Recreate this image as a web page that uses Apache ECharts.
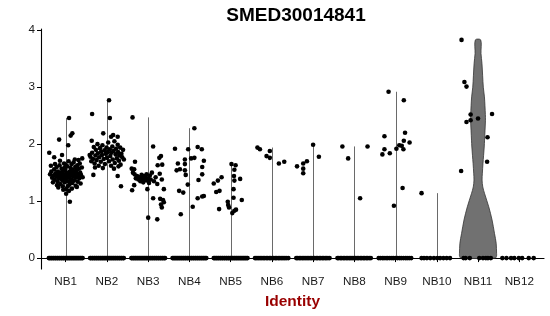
<!DOCTYPE html>
<html>
<head>
<meta charset="utf-8">
<script src="https://cdn.jsdelivr.net/npm/echarts@6/dist/echarts.min.js"></script>
<style>html,body{margin:0;padding:0;background:#fff}#c{width:550px;height:316px}</style>
</head>
<body>
<div id="c"></div>
<script>
// ---- data ----
const title = 'SMED30014841';
const categories = ['NB1','NB2','NB3','NB4','NB5','NB6','NB7','NB8','NB9','NB10','NB11','NB12'];
const yTicks = [0, 1, 2, 3, 4];

// non-zero cells: [jitter offset, expression]
const ptsNB1 = [[0.08,2.46],[0.16,2.19],[0.12,2.15],[-0.16,2.08],[0.06,1.98],[-0.40,1.85],[-0.28,1.77],[-0.09,1.81],[0.40,1.75],[0.10,0.99],[0.01,1.13],
 [-0.38,1.47],[-0.35,1.52],[-0.33,1.41],[-0.30,1.45],[-0.28,1.56],[-0.27,1.38],[-0.25,1.49],[-0.23,1.43],[-0.22,1.60],[-0.20,1.35],[-0.19,1.52],[-0.17,1.46],[-0.16,1.40],[-0.15,1.63],[-0.13,1.30],[-0.12,1.50],[-0.11,1.44],[-0.10,1.57],[-0.09,1.37],[-0.08,1.48],[-0.07,1.26],[-0.06,1.53],[-0.05,1.42],[-0.04,1.66],[-0.03,1.33],[-0.02,1.46],[-0.01,1.55],[0.00,1.39],[0.01,1.21],[0.02,1.50],[0.03,1.44],[0.04,1.61],[0.05,1.35],[0.06,1.47],[0.07,1.70],[0.08,1.41],[0.09,1.29],[0.10,1.52],[0.11,1.45],[0.12,1.58],[0.13,1.38],[0.14,1.65],[0.15,1.49],[0.16,1.32],[0.17,1.55],[0.18,1.43],[0.19,1.68],[0.20,1.36],[0.21,1.51],[0.22,1.46],[0.23,1.60],[0.24,1.27],[0.25,1.41],[0.26,1.54],[0.27,1.48],[0.28,1.63],[0.29,1.34],[0.30,1.44],[0.31,1.72],[0.32,1.57],[0.33,1.40],[0.35,1.50],[0.36,1.31],[0.37,1.46],[0.39,1.59],[0.41,1.42],[-0.36,1.62],[-0.31,1.33],[-0.26,1.65],[-0.18,1.24],[-0.14,1.71],[-0.06,1.20],[0.00,1.64],[0.08,1.18],[0.15,1.22],[0.22,1.73],[0.27,1.25],[0.34,1.66],[-0.21,1.28],[-0.02,1.59],[0.12,1.34],[0.05,1.26]];
const ptsNB2 = [[0.05,2.77],[-0.36,2.53],[0.07,2.46],[-0.09,2.19],[0.10,2.13],[0.15,2.16],[0.26,2.13],[-0.37,2.06],[-0.42,1.81],[-0.33,1.46],[0.26,1.44],[0.34,1.26],[-0.10,1.58],
 [-0.40,1.78],[-0.38,1.70],[-0.36,1.85],[-0.34,1.74],[-0.32,1.95],[-0.30,1.66],[-0.28,1.80],[-0.27,1.90],[-0.25,1.72],[-0.23,2.00],[-0.22,1.84],[-0.20,1.62],[-0.19,1.77],[-0.17,1.93],[-0.15,1.69],[-0.14,1.87],[-0.12,1.81],[-0.11,1.98],[-0.08,1.74],[-0.06,1.89],[-0.05,1.65],[-0.03,1.83],[-0.01,1.94],[0.00,1.76],[0.02,1.86],[0.03,2.03],[0.05,1.70],[0.07,1.91],[0.08,1.79],[0.10,1.62],[0.11,1.85],[0.13,1.96],[0.14,1.73],[0.16,1.88],[0.18,2.05],[0.19,1.67],[0.21,1.82],[0.22,1.92],[0.24,1.75],[0.26,1.99],[0.27,1.86],[0.29,1.71],[0.30,1.80],[0.32,1.94],[0.33,1.64],[0.35,1.83],[0.37,1.77],[0.39,1.90],[0.41,1.73],[-0.29,1.59],[0.17,1.57],[0.28,1.61]];
const ptsNB3 = [[-0.38,2.47],[0.12,1.96],[0.31,1.79],[0.27,1.76],[-0.32,1.69],[0.23,1.63],[0.34,1.64],[-0.40,1.57],[-0.34,1.56],
 [-0.37,1.50],[-0.33,1.47],[-0.30,1.40],[-0.27,1.44],[-0.24,1.38],[-0.21,1.42],[-0.19,1.35],[-0.16,1.46],[-0.14,1.39],[-0.12,1.33],[-0.10,1.44],[-0.08,1.37],[-0.06,1.41],[-0.04,1.47],[-0.02,1.36],[0.00,1.40],[0.02,1.32],[0.04,1.45],[0.06,1.38],[0.09,1.50],[0.14,1.35],[0.18,1.42],[0.22,1.30],[0.28,1.48],[0.33,1.38],
 [-0.34,1.28],[-0.39,1.19],[-0.02,1.21],[0.38,1.21],[0.12,1.05],[0.29,1.04],[0.38,0.98],[0.33,0.89],[0.00,0.71],[0.22,0.68],[0.36,1.02],[0.31,0.94]];
const ptsNB4 = [[0.12,2.28],[-0.35,1.92],[-0.03,1.91],[0.20,1.95],[0.30,1.91],[0.12,1.76],[0.04,1.75],[-0.11,1.73],[0.35,1.71],[-0.28,1.66],[-0.23,1.56],[-0.31,1.54],[-0.11,1.65],[-0.11,1.54],[-0.09,1.46],[0.31,1.60],[0.31,1.47],[0.22,1.37],[-0.04,1.29],[-0.25,1.18],[-0.15,1.15],[0.35,1.09],[0.31,1.08],[0.20,1.05],[0.08,0.90],[-0.21,0.77]];
const ptsNB5 = [[0.02,1.65],[0.12,1.63],[0.09,1.55],[-0.22,1.42],[-0.31,1.36],[-0.41,1.31],[0.08,1.44],[0.09,1.36],[0.23,1.39],[-0.27,1.18],[-0.35,1.16],[0.07,1.21],[0.07,1.06],[0.27,1.02],[-0.07,0.99],[-0.06,0.93],[-0.04,0.89],[0.13,0.85],[0.09,0.83],[0.04,0.79],[-0.28,0.86]];
const ptsNB6 = [[-0.35,1.94],[-0.29,1.91],[-0.05,1.88],[-0.13,1.79],[-0.05,1.76],[0.17,1.66],[0.30,1.69]];
const ptsNB7 = [[-0.39,1.61],[-0.24,1.66],[-0.15,1.70],[-0.24,1.57],[-0.24,1.49],[0.00,1.99],[0.14,1.78]];
const ptsNB8 = [[-0.29,1.96],[-0.15,1.75],[0.14,1.05],[0.32,1.96]];
const ptsNB9 = [[-0.17,2.92],[0.20,2.77],[-0.27,2.14],[0.23,2.20],[0.20,2.06],[0.34,2.03],[-0.27,1.91],[-0.32,1.82],[-0.14,1.84],[0.02,1.92],[0.09,1.98],[0.15,1.97],[0.19,1.91],[0.17,1.23],[-0.04,0.92]];
const ptsNB10 = [[-0.37,1.14]];
const ptsNB11 = [[-0.40,3.83],[-0.33,3.09],[-0.28,3.01],[-0.18,2.52],[-0.28,2.39],[-0.18,2.42],[0.00,2.45],[0.34,2.53],[0.23,2.12],[0.22,1.69],[-0.41,1.53]];
const ptsNB12 = [];

// cells at zero: jitter offsets only
const zeroDense = [-0.41,-0.39,-0.36,-0.34,-0.31,-0.29,-0.26,-0.24,-0.21,-0.19,-0.16,-0.14,-0.11,-0.09,-0.06,-0.04,-0.01,0.01,0.04,0.06,0.09,0.11,0.14,0.16,0.19,0.21,0.24,0.26,0.29,0.31,0.34,0.36,0.39,0.41];
const zeroMedium = [-0.41,-0.38,-0.34,-0.31,-0.27,-0.24,-0.20,-0.17,-0.13,-0.10,-0.06,-0.03,0.01,0.04,0.08,0.11,0.15,0.18,0.22,0.25,0.29,0.32,0.36,0.40];
const zeroNB9 = [-0.41,-0.37,-0.32,-0.28,-0.23,-0.19,-0.14,-0.09,-0.05,0.00,0.05,0.10,0.14,0.19,0.24,0.28,0.33,0.38];
const zeroNB10 = [-0.37,-0.31,-0.24,-0.16,-0.07,0.01,0.08,0.16,0.24,0.32];
const zeroNB11 = [-0.35,-0.30,-0.20,0.03,0.12,0.19,0.24,0.31];
const zeroNB12 = [-0.41,-0.31,-0.20,-0.12,-0.01,0.07,0.23,0.35];

// NB11 violin outline: [expression, half width]
const violinNB11 = [[0,0.42],[0.04,0.45],[0.08,0.45],[0.26,0.44],[0.43,0.40],[0.67,0.34],[0.90,0.26],[1.13,0.16],[1.25,0.115],[1.37,0.098],[1.49,0.105],[1.66,0.12],[1.95,0.15],[2.07,0.158],[2.42,0.18],[2.52,0.178],[2.83,0.155],[3.00,0.128],[3.42,0.095],[3.59,0.072],[3.83,0.065]];

const points = [ptsNB1,ptsNB2,ptsNB3,ptsNB4,ptsNB5,ptsNB6,ptsNB7,ptsNB8,ptsNB9,ptsNB10,ptsNB11,ptsNB12];
const zeros = [zeroDense,zeroDense,zeroDense,zeroDense,zeroDense,zeroMedium,zeroMedium,zeroMedium,zeroNB9,zeroNB10,zeroNB11,zeroNB12];

// ---- build ----
const scatterData = [];
points.forEach((arr, i) => {
  zeros[i].forEach(dx => scatterData.push([i + 1 + dx, 0]));
  arr.forEach(p => scatterData.push([i + 1 + p[0], p[1]]));
});
const violinData = categories.map((c, i) => {
  const mx = points[i].reduce((m, p) => Math.max(m, p[1]), 0);
  return [i + 1, mx];
});
const ymaxData = Math.max(...violinData.map(d => d[1]));
const yMin = -0.05 * ymaxData, yMax = 1.05 * ymaxData;
const tickVals = categories.map((c, i) => i + 1);
const FONT = 'Liberation Sans, Arial, Helvetica, sans-serif';

const chart = echarts.init(document.getElementById('c'), null, {renderer: 'canvas'});
chart.setOption({
  animation: false,
  backgroundColor: '#ffffff',
  title: {
    text: title, left: 291, top: 1, textAlign: 'center',
    textStyle: {fontFamily: FONT, fontSize: 19, fontWeight: 'bold', color: '#000'}
  },
  grid: {left: 41, right: 6, top: 29, bottom: 47, containLabel: false},
  xAxis: {
    type: 'value', min: 0.4, max: 12.6,
    axisLine: {show: true, lineStyle: {color: '#000', width: 1.1}},
    axisTick: {show: true, length: 4, lineStyle: {color: '#000', width: 1}, customValues: tickVals},
    axisLabel: {customValues: tickVals, formatter: v => categories[Math.round(v) - 1] || '', margin: 7,
      fontFamily: FONT, fontSize: 11.7, color: '#1a1a1a'},
    splitLine: {show: false},
    name: 'Identity', nameLocation: 'middle', nameGap: 25,
    nameTextStyle: {fontFamily: FONT, fontSize: 15.5, fontWeight: 'bold', color: '#990000'}
  },
  yAxis: {
    type: 'value', min: yMin, max: yMax,
    axisLine: {show: true, lineStyle: {color: '#000', width: 1.1}},
    axisTick: {show: true, length: 4, lineStyle: {color: '#000', width: 1}, customValues: yTicks},
    axisLabel: {customValues: yTicks, margin: 6, fontFamily: FONT, fontSize: 11.7, color: '#1a1a1a'},
    splitLine: {show: false}
  },
  series: [
    {
      type: 'custom',
      data: violinData,
      z: 1,
      renderItem: function (params, api) {
        const x = api.value(0), mx = api.value(1);
        if (mx <= 0) return null;
        if (x === 11) {
          const left = violinNB11.map(p => api.coord([x - p[1], p[0]]));
          const right = violinNB11.slice().reverse().map(p => api.coord([x + p[1], p[0]]));
          return {type: 'polygon', shape: {points: left.concat(right), smooth: 0.3},
            style: {fill: '#717171', stroke: '#333', lineWidth: 0.8}};
        }
        const a = api.coord([x, 0]), b = api.coord([x, mx]);
        return {type: 'line', shape: {x1: Math.round(a[0]) + 0.5, y1: a[1], x2: Math.round(b[0]) + 0.5, y2: b[1]},
          style: {stroke: '#6a6a6a', lineWidth: 1}};
      }
    },
    {
      type: 'scatter',
      data: scatterData,
      symbol: 'circle',
      symbolSize: 4.6,
      z: 2,
      itemStyle: {color: '#000', opacity: 1},
      emphasis: {disabled: true}
    }
  ]
});
</script>
</body>
</html>
